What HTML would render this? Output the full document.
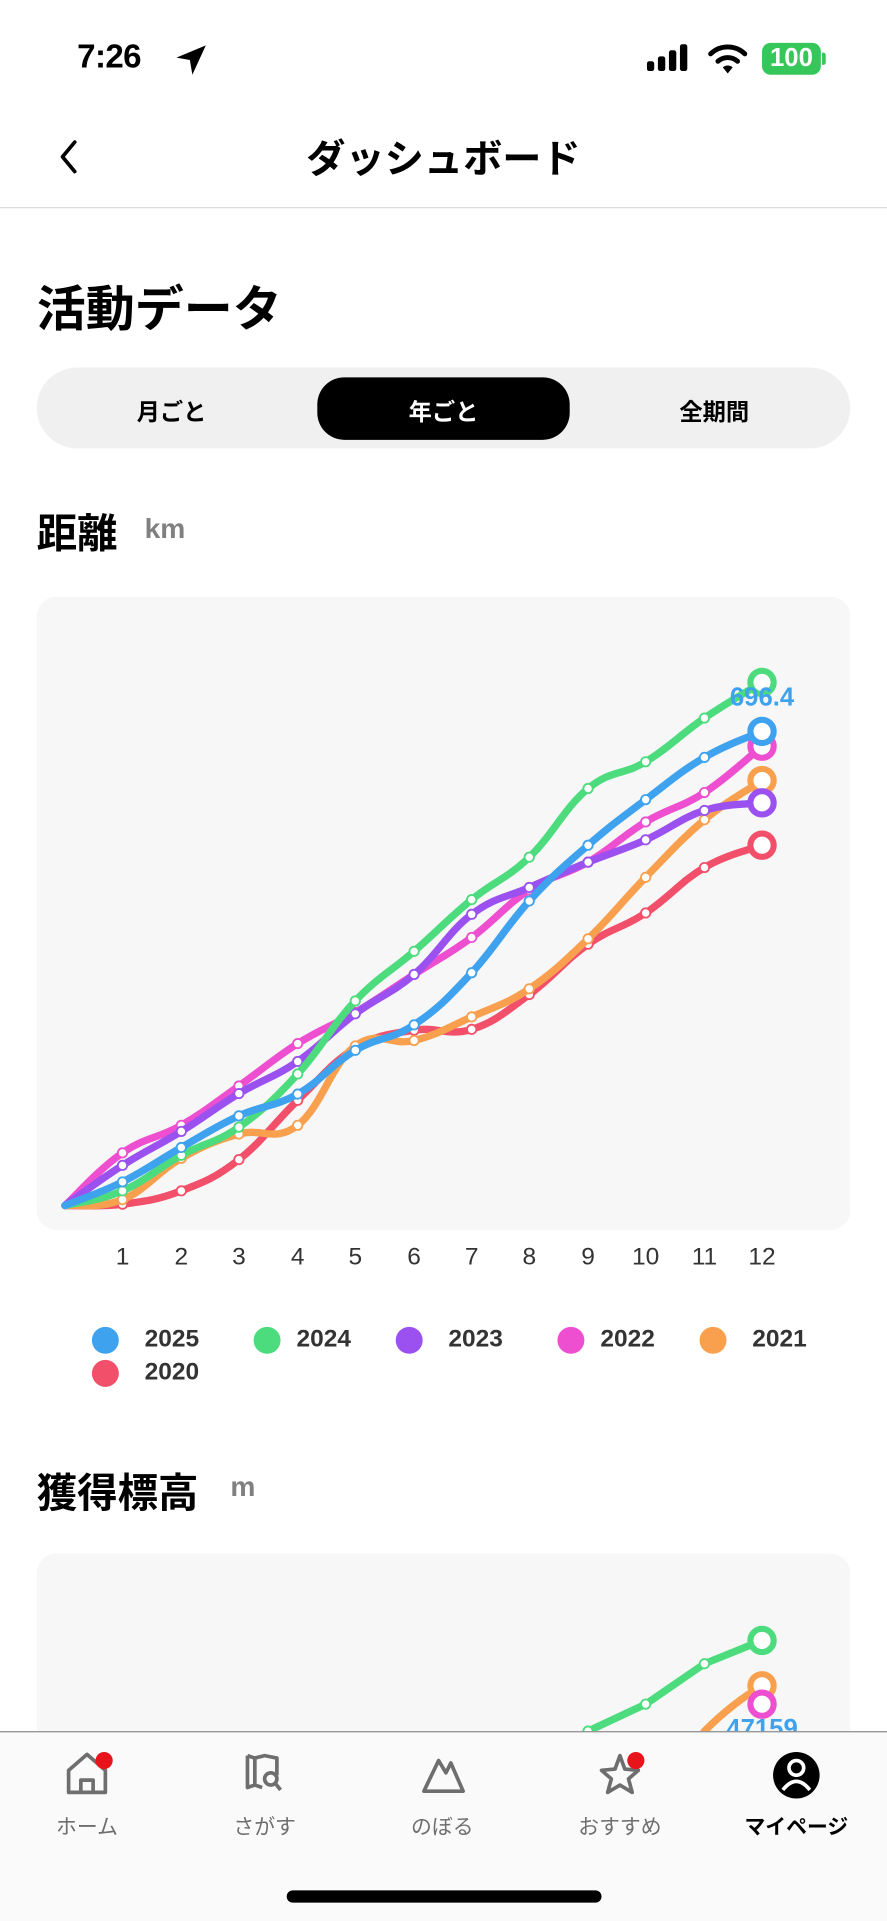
<!DOCTYPE html>
<html><head><meta charset="utf-8">
<style>
*{margin:0;padding:0;box-sizing:border-box}
html,body{width:887px;height:1920px;overflow:hidden;background:#fff}
#w{position:absolute;left:0;top:0;width:724px;height:1568px;transform:scale(1.22514);transform-origin:0 0;font-family:"Liberation Sans","Noto Sans CJK JP",sans-serif;color:#000}
.a{position:absolute;white-space:nowrap}
.b{font-weight:bold}
</style></head><body><div id="w">
<!-- status bar -->
<div class="a b" style="left:63px;top:31px;font-size:27px;letter-spacing:-0.5px">7:26</div>
<svg class="a" style="left:142px;top:35px" width="28" height="28" viewBox="0 0 28 28"><path d="M26 2 L2 12 L13 14 L15 26 Z" fill="#000"/></svg>
<svg class="a" style="left:528px;top:36px" width="40" height="24"><rect x="0" y="14" width="6" height="8" rx="2"/><rect x="9" y="10" width="6" height="12" rx="2"/><rect x="18" y="5" width="6" height="17" rx="2"/><rect x="27" y="0" width="6" height="22" rx="2"/></svg>
<svg class="a" style="left:578px;top:35px" width="32" height="26" viewBox="0 0 32 26"><path d="M2 9 A20 20 0 0 1 30 9" stroke="#000" stroke-width="4" fill="none" stroke-linecap="round"/><path d="M8 15 A12 12 0 0 1 24 15" stroke="#000" stroke-width="4" fill="none" stroke-linecap="round"/><path d="M12 20 L16 25 L20 20 A6 6 0 0 0 12 20Z" fill="#000"/></svg>
<div class="a" style="left:622px;top:35px;width:48px;height:26px;border-radius:7px;background:#35c759;color:#fff;font-weight:bold;font-size:21px;text-align:center;line-height:26px">100</div>
<div class="a" style="left:671px;top:43px;width:3px;height:10px;border-radius:0 2px 2px 0;background:#35c759"></div>
<!-- nav -->
<svg class="a" style="left:45px;top:113px" width="22" height="30"><path d="M16 3 L6 15 L16 27" stroke="#000" stroke-width="3" fill="none" stroke-linecap="round" stroke-linejoin="round"/></svg>
<div class="a b" style="left:0;width:724px;text-align:center;top:105px;font-size:32px">ダッシュボード</div>
<div class="a" style="left:0;top:169px;width:724px;height:1px;background:#d8d8d8"></div>
<div class="a b" style="left:30px;top:220px;font-size:40px">活動データ</div>
<!-- segmented -->
<div class="a" style="left:30px;top:300px;width:664px;height:66px;border-radius:33px;background:#f0f0f0"></div>
<div class="a" style="left:259px;top:308px;width:206px;height:51px;border-radius:22px;background:#000"></div>
<div class="a b" style="left:40px;width:200px;text-align:center;top:322px;font-size:19px">月ごと</div>
<div class="a b" style="left:262px;width:200px;text-align:center;top:322px;font-size:19px;color:#fff">年ごと</div>
<div class="a b" style="left:483px;width:200px;text-align:center;top:322px;font-size:19px">全期間</div>
<div class="a b" style="left:30px;top:409px;font-size:33px">距離</div>
<div class="a b" style="left:118px;top:418px;font-size:23px;color:#808080">km</div>
<!-- chart 1 -->
<div class="a" style="left:30px;top:487px;width:664px;height:517px;border-radius:16px;background:#f7f7f7"></div>
<svg id="c1" class="a" style="left:0;top:0" width="724" height="1568"></svg>
<div class="a" style="left:0;top:1015px;width:724px;height:30px;font-size:20px;color:#333" id="xl"></div>
<!-- legend -->
<div id="lg"></div>
<div class="a b" style="left:30px;top:1192px;font-size:33px">獲得標高</div>
<div class="a b" style="left:188px;top:1200px;font-size:23px;color:#808080">m</div>
<div class="a" style="left:30px;top:1268px;width:664px;height:200px;border-radius:16px;background:#f7f7f7"></div>
<svg id="c2" class="a" style="left:0;top:0" width="724" height="1568"></svg>
<!-- tab bar -->
<div class="a" style="left:0;top:1413px;width:724px;height:155px;background:#fafafa;border-top:1px solid #8a8a8a"></div>
<svg class="a" style="left:0;top:1425px" width="724" height="50">
<g stroke="#6e6e6e" stroke-width="3" fill="none" stroke-linejoin="round">
<path d="M56 38 V20 L71 7 L86 20 V38 Z M66 38 V28 H76 V38"/>
<path d="M202 8 L208 10 L216 8 L226 10 V24 M202 8 V34 L208 32 L214 34 M208 10 V32"/>
<circle cx="221" cy="27" r="5"/><path d="M225 31 L229 36"/>
<path d="M346 37 L358 12 L364 22 L368 14 L378 37 Z"/>
<path d="M506 8 L510 19 L521 20 L513 27 L516 38 L506 32 L496 38 L499 27 L491 20 L502 19 Z"/>
</g>
<circle cx="85" cy="12" r="7" fill="#e8141c"/>
<circle cx="519" cy="12" r="7" fill="#e8141c"/>
<circle cx="650" cy="24" r="19" fill="#000"/>
<circle cx="650" cy="18" r="6" fill="none" stroke="#fff" stroke-width="3"/>
<path d="M639 36 Q650 22 661 36" stroke="#fff" stroke-width="3" fill="none"/>
</svg>
<div class="a" style="left:21px;width:100px;text-align:center;top:1477px;font-size:17px;color:#6e6e6e">ホーム</div>
<div class="a" style="left:166px;width:100px;text-align:center;top:1477px;font-size:17px;color:#6e6e6e">さがす</div>
<div class="a" style="left:311px;width:100px;text-align:center;top:1477px;font-size:17px;color:#6e6e6e">のぼる</div>
<div class="a" style="left:456px;width:100px;text-align:center;top:1477px;font-size:17px;color:#6e6e6e">おすすめ</div>
<div class="a b" style="left:595px;width:110px;text-align:center;top:1477px;font-size:17px">マイページ</div>
<div class="a" style="left:234px;top:1543px;width:257px;height:10px;border-radius:5px;background:#000"></div>
</div>
<script>
var NS="http://www.w3.org/2000/svg";
function el(p,t,a){var e=document.createElementNS(NS,t);for(var k in a)e.setAttribute(k,a[k]);p.appendChild(e);return e}
var xs=[53,100,148,195,243,290,338,385,432,480,527,575,622];
var S=[
["#f2506a",[984,982.9,972,946.5,898.1,855.5,840.9,840.2,811.8,770.7,745.2,708.1,689.9]],
["#f9a04e",[984,979.2,945.4,925.7,918.5,853.7,849.3,830,807.1,766.3,716.1,669.1,637.1]],
["#ee4fd0",[984,941,918.5,886.4,851.8,826.4,795.4,765.2,726.3,703.7,670.9,646.9,609.1]],
["#9b51f0",[984,951.2,923.5,892.6,866.4,827.5,795.4,746.3,724.4,703.7,685.5,661.5,655.3]],
["#4cdb7d",[984,972,943,920,876.6,817,776.5,734.3,699.7,643.6,621.8,586.1,557]],
["#3fa2ee",[984,964.7,936.6,910.8,893,857.3,836.5,794,735.4,689.9,652.7,618.2,597]]];
function path(P){var d="M"+P[0][0]+" "+P[0][1];for(var i=0;i<P.length-1;i++){var p0=P[Math.max(0,i-1)],p1=P[i],p2=P[i+1],p3=P[Math.min(P.length-1,i+2)];var t=0.2;d+=" C"+(p1[0]+(p2[0]-p0[0])*t)+" "+(p1[1]+(p2[1]-p0[1])*t)+" "+(p2[0]-(p3[0]-p1[0])*t)+" "+(p2[1]-(p3[1]-p1[1])*t)+" "+p2[0]+" "+p2[1];}return d}
var c1=document.getElementById("c1");
S.forEach(function(s){var P=xs.map(function(x,i){return[x,s[1][i]]});
el(c1,"path",{d:path(P),stroke:s[0],"stroke-width":6,fill:"none","stroke-linecap":"round"});
for(var i=1;i<12;i++)el(c1,"circle",{cx:P[i][0],cy:P[i][1],r:3.8,fill:"#fff",stroke:s[0],"stroke-width":1.5});
el(c1,"circle",{cx:622,cy:P[12][1],r:9.5,fill:"#fff",stroke:s[0],"stroke-width":5});});
var t=el(c1,"text",{x:622,y:576,"text-anchor":"middle","font-size":21,"font-weight":"bold",fill:"#3fa2ee","font-family":"Liberation Sans"});t.textContent="696.4";
var xl=document.getElementById("xl");
for(var i=1;i<=12;i++){var d=document.createElement("div");d.className="a";d.style.left=(xs[i]-20)+"px";d.style.width="40px";d.style.textAlign="center";d.textContent=i;xl.appendChild(d);}
var lg=document.getElementById("lg");
var L=[[86,118,1094,"#3fa2ee","2025"],[218,242,1094,"#4cdb7d","2024"],[334,366,1094,"#9b51f0","2023"],[466,490,1094,"#ee4fd0","2022"],[582,614,1094,"#f9a04e","2021"],[86,118,1121,"#f2506a","2020"]];
L.forEach(function(l){var d=document.createElement("div");d.className="a";d.style.cssText="left:"+(l[0]-11)+"px;top:"+(l[2]-11)+"px;width:22px;height:22px;border-radius:11px;background:"+l[3];document.getElementById("w").appendChild(d);
var q=document.createElement("div");q.className="a b";q.style.cssText="left:"+l[1]+"px;top:"+(l[2]-12)+"px;font-size:20px;color:#333";q.textContent=l[4];document.getElementById("w").appendChild(q);});
var c2=document.getElementById("c2");
el(c2,"path",{d:"M560 1440 L575 1413 Q598 1390 622 1376",stroke:"#f9a04e","stroke-width":6,fill:"none"});
el(c2,"path",{d:"M440 1440 L480 1413 L527 1391 L575 1358 L622 1339",stroke:"#4cdb7d","stroke-width":6,fill:"none","stroke-linejoin":"round"});
[[480,1413],[527,1391],[575,1358]].forEach(function(p){el(c2,"circle",{cx:p[0],cy:p[1],r:3.8,fill:"#fff",stroke:"#4cdb7d","stroke-width":1.5})});
el(c2,"circle",{cx:622,cy:1339,r:9.5,fill:"#fff",stroke:"#4cdb7d","stroke-width":5});
el(c2,"circle",{cx:622,cy:1376,r:9.5,fill:"#fff",stroke:"#f9a04e","stroke-width":5});
el(c2,"circle",{cx:622,cy:1391,r:9.5,fill:"#fff",stroke:"#ee4fd0","stroke-width":5});
var t2=el(c2,"text",{x:622,y:1418,"text-anchor":"middle","font-size":21,"font-weight":"bold",fill:"#3fa2ee","font-family":"Liberation Sans"});t2.textContent="47159";
</script>
</body></html>
